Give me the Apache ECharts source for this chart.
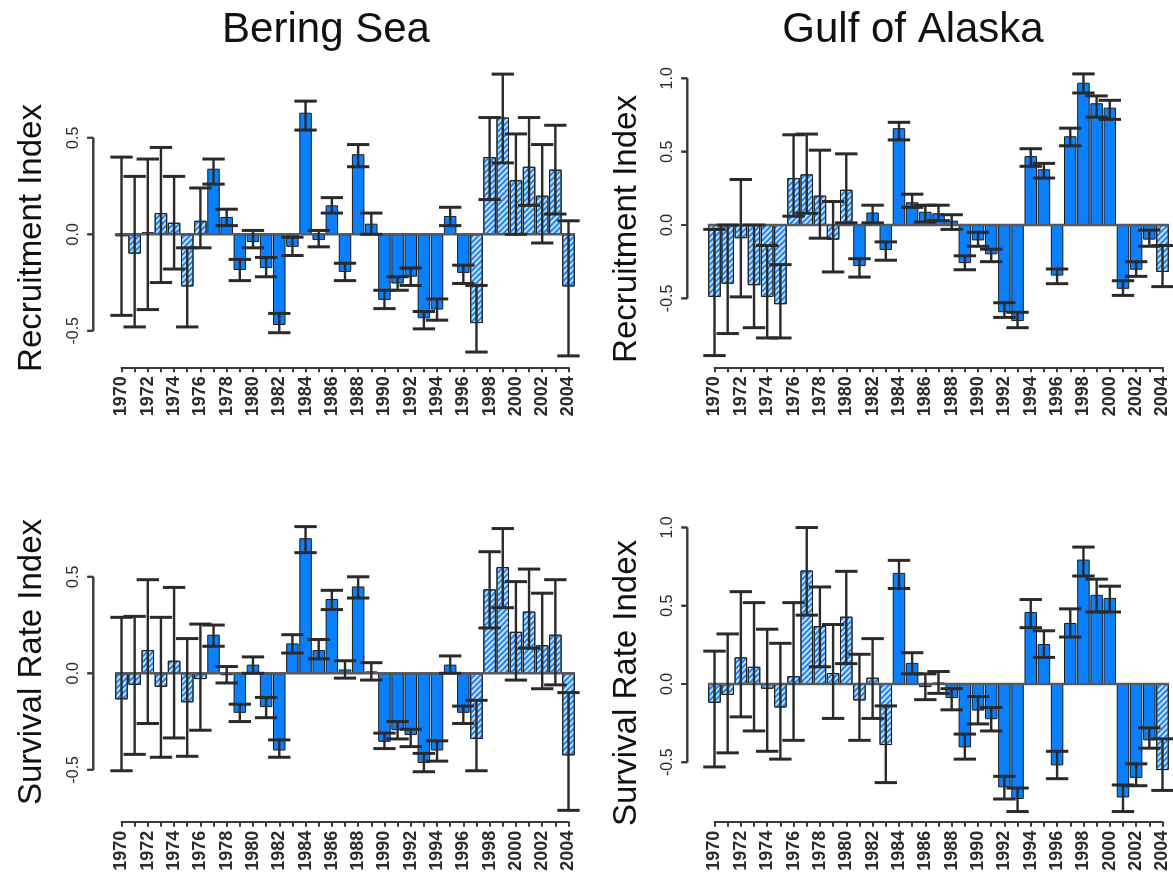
<!DOCTYPE html>
<html>
<head>
<meta charset="utf-8">
<script src="https://cdn.jsdelivr.net/npm/echarts@6/dist/echarts.min.js"></script>
<style>
  html, body { margin: 0; padding: 0; background: #ffffff; }
  #chart { width: 1173px; height: 880px; }
</style>
</head>
<body>
<div id="chart"></div>
<script>
// Year categories shared by all four panels
const years = ['1970','1971','1972','1973','1974','1975','1976','1977','1978','1979',
  '1980','1981','1982','1983','1984','1985','1986','1987','1988','1989',
  '1990','1991','1992','1993','1994','1995','1996','1997','1998','1999',
  '2000','2001','2002','2003','2004'];

// Y-axis tick values
const beringTicks = [-0.5, 0.0, 0.5];
const gulfTicks = [-0.5, 0.0, 0.5, 1.0];

// Bering Sea - recruitment index
const beringRecruit = [-0.01,-0.10,0.01,0.11,0.06,-0.27,0.07,0.34,0.09,-0.185,
  -0.04,-0.175,-0.47,-0.065,0.63,-0.03,0.15,-0.195,0.415,0.055,
  -0.34,-0.255,-0.22,-0.435,-0.39,0.095,-0.20,-0.46,0.40,0.605,
  0.28,0.35,0.20,0.335,-0.27];
const beringRecruitLow = [-0.42,-0.48,-0.39,-0.25,-0.18,-0.48,-0.07,0.26,0.045,-0.24,
  -0.07,-0.22,-0.51,-0.11,0.54,-0.065,0.11,-0.24,0.35,0.0,
  -0.385,-0.29,-0.265,-0.49,-0.445,0.045,-0.255,-0.61,0.18,0.37,
  0.0,0.15,-0.045,0.105,-0.63];
const beringRecruitHigh = [0.40,0.30,0.39,0.45,0.30,-0.07,0.24,0.39,0.13,-0.13,
  0.02,-0.12,-0.41,-0.015,0.69,0.02,0.19,-0.15,0.465,0.11,
  -0.29,-0.22,-0.175,-0.40,-0.335,0.14,-0.16,-0.265,0.605,0.83,
  0.52,0.605,0.465,0.565,0.07];
const beringRecruitHatched = ['1970','1971','1972','1973','1974','1975','1976',
  '1997','1998','1999','2000','2001','2002','2003','2004'];

// Bering Sea - survival rate index
const beringSurvival = [-0.135,-0.06,0.12,-0.07,0.065,-0.15,-0.03,0.20,-0.01,-0.205,
  0.045,-0.175,-0.40,0.155,0.70,0.12,0.385,0.02,0.45,0.01,
  -0.355,-0.295,-0.32,-0.465,-0.40,0.045,-0.205,-0.34,0.435,0.55,
  0.215,0.32,0.145,0.20,-0.425];
const beringSurvivalLow = [-0.505,-0.42,-0.26,-0.435,-0.335,-0.43,-0.295,0.14,-0.05,-0.25,
  0.0,-0.23,-0.435,0.105,0.625,0.075,0.33,-0.025,0.39,-0.035,
  -0.39,-0.34,-0.38,-0.51,-0.455,0.0,-0.26,-0.505,0.235,0.34,
  -0.035,0.13,-0.08,-0.06,-0.71];
const beringSurvivalHigh = [0.29,0.295,0.485,0.29,0.445,0.18,0.255,0.25,0.035,-0.16,
  0.085,-0.125,-0.345,0.20,0.76,0.175,0.43,0.065,0.50,0.055,
  -0.31,-0.25,-0.29,-0.415,-0.35,0.09,-0.17,-0.14,0.63,0.75,
  0.475,0.54,0.415,0.485,-0.10];
const beringSurvivalHatched = ['1970','1971','1972','1973','1974','1975','1976',
  '1997','1998','1999','2000','2001','2002','2003','2004'];

// Gulf of Alaska - recruitment index
const gulfRecruit = [-0.49,-0.40,-0.09,-0.41,-0.49,-0.54,0.32,0.345,0.20,-0.10,
  0.24,-0.28,0.085,-0.17,0.66,0.155,0.09,0.08,0.03,-0.26,
  -0.105,-0.20,-0.595,-0.655,0.47,0.38,-0.345,0.605,0.97,0.83,
  0.80,-0.435,-0.305,-0.10,-0.32];
const gulfRecruitLow = [-0.89,-0.74,-0.49,-0.70,-0.77,-0.77,0.06,0.08,-0.09,-0.32,
  0.015,-0.355,0.015,-0.24,0.58,0.12,0.02,0.03,-0.03,-0.305,
  -0.145,-0.25,-0.63,-0.70,0.40,0.32,-0.40,0.54,0.90,0.735,
  0.72,-0.48,-0.35,-0.145,-0.42];
const gulfRecruitHigh = [-0.03,0.0,0.31,0.0,-0.14,-0.27,0.615,0.62,0.51,0.16,
  0.485,-0.23,0.135,-0.115,0.70,0.21,0.135,0.135,0.07,-0.21,
  -0.05,-0.165,-0.53,-0.595,0.52,0.42,-0.30,0.66,1.03,0.88,
  0.85,-0.38,-0.25,-0.035,-0.14];
const gulfRecruitHatched = ['1970','1971','1972','1973','1974','1975','1976','1977',
  '1978','1979','1980','2004'];

// Gulf of Alaska - survival rate index
const gulfSurvival = [-0.12,-0.07,0.17,0.11,-0.03,-0.15,0.05,0.725,0.37,0.07,
  0.43,-0.105,0.04,-0.39,0.71,0.135,-0.02,0.01,-0.09,-0.405,
  -0.17,-0.225,-0.66,-0.735,0.46,0.255,-0.52,0.39,0.795,0.57,
  0.55,-0.725,-0.60,-0.36,-0.55];
const gulfSurvivalLow = [-0.53,-0.44,-0.21,-0.30,-0.43,-0.48,-0.36,0.44,0.11,-0.22,
  0.13,-0.36,-0.22,-0.63,0.61,0.065,-0.10,-0.06,-0.165,-0.48,
  -0.255,-0.30,-0.735,-0.815,0.36,0.17,-0.605,0.30,0.69,0.46,
  0.46,-0.815,-0.65,-0.41,-0.68];
const gulfSurvivalHigh = [0.21,0.32,0.59,0.52,0.35,0.26,0.52,1.0,0.62,0.38,
  0.72,0.19,0.29,-0.14,0.79,0.20,0.065,0.08,-0.03,-0.32,
  -0.08,-0.15,-0.59,-0.665,0.54,0.34,-0.43,0.48,0.875,0.67,
  0.625,-0.645,-0.51,-0.28,-0.35];
const gulfSurvivalHatched = ['1970','1971','1972','1973','1974','1975','1976','1977',
  '1978','1979','1980','1981','1982','1983','2004'];

// ---- styling ----
const FONT = '"Liberation Sans", Arial, Helvetica, sans-serif';
const SOLID = '#0a80ff';
const HATCH_FILL = '#c4e0fb';
const HATCH = {
  symbol: 'rect', symbolSize: 1, color: '#1f84ee',
  dashArrayX: [1, 0], dashArrayY: [2, 2], rotation: -Math.PI / 4
};
const INK = '#2a2a2a';
const AXIS = '#3a3a3a';

// Panel placement: zero line, pixels per unit, x-axis position;
// axisGap is how far the value-axis rule sits left of the first bar centre
const panels = [
  { name: 'Recruitment Index', vals: beringRecruit, low: beringRecruitLow, high: beringRecruitHigh,
    hatched: beringRecruitHatched, ticks: beringTicks,
    left: 121.5, width: 447, zeroY: 234.3, ppu: 193, axisY: 367.3, top: 0.9, axisGap: 28.2, nameX: 32, nameY: 238 },
  { name: 'Recruitment Index', vals: gulfRecruit, low: gulfRecruitLow, high: gulfRecruitHigh,
    hatched: gulfRecruitHatched, ticks: gulfTicks,
    left: 714.5, width: 448, zeroY: 225, ppu: 146.7, axisY: 367.3, top: 1.1, axisGap: 27.2, nameX: 627, nameY: 229 },
  { name: 'Survival Rate Index', vals: beringSurvival, low: beringSurvivalLow, high: beringSurvivalHigh,
    hatched: beringSurvivalHatched, ticks: beringTicks,
    left: 121.5, width: 447, zeroY: 673.3, ppu: 193, axisY: 821.7, top: 0.9, axisGap: 28.2, nameX: 32, nameY: 662 },
  { name: 'Survival Rate Index', vals: gulfSurvival, low: gulfSurvivalLow, high: gulfSurvivalHigh,
    hatched: gulfSurvivalHatched, ticks: gulfTicks,
    left: 714.5, width: 448, zeroY: 684, ppu: 156.5, axisY: 821.7, top: 1.1, axisGap: 27.2, nameX: 627, nameY: 683 }
];

// Value-axis rule: a vertical line from the first to the last tick, with short ticks
function axisRule(api, ticks, gap) {
  const ax = api.coord([0, 0])[0] - gap;
  const yLo = api.coord([0, ticks[0]])[1];
  const yHi = api.coord([0, ticks[ticks.length - 1]])[1];
  const kids = [{ type: 'rect', shape: { x: ax - 1, y: yHi, width: 2, height: yLo - yHi },
    style: { fill: AXIS } }];
  ticks.forEach(t => {
    const ty = api.coord([0, t])[1];
    kids.push({ type: 'rect', shape: { x: ax - 6, y: ty - 1, width: 6, height: 2 },
      style: { fill: AXIS } });
  });
  return kids;
}

const grid = [], xAxis = [], yAxis = [], series = [], graphic = [];
const n = panels.length;

panels.forEach((p, k) => {
  const gTop = p.zeroY - p.top * p.ppu;
  const gMin = -(p.axisY - p.zeroY) / p.ppu;
  const ticks = p.ticks;
  // plotting grid
  grid.push({ left: p.left, top: gTop, width: p.width, height: p.axisY - gTop });
  xAxis.push({
    gridIndex: k, type: 'category', data: years, boundaryGap: false, position: 'bottom',
    axisLine: { show: true, onZero: false, lineStyle: { color: AXIS, width: 2 } },
    axisTick: { show: true, interval: 0, length: 5, lineStyle: { color: AXIS, width: 2 } },
    axisLabel: { interval: 1, rotate: 90, margin: 9, fontSize: 18, fontWeight: 'bold',
      fontFamily: FONT, color: '#2b2b2b' },
    splitLine: { show: false }
  });
  yAxis.push({ gridIndex: k, type: 'value', min: gMin, max: p.top, show: false });

  // bars
  series.push({
    type: 'bar', xAxisIndex: k, yAxisIndex: k, clip: false, barWidth: 12.5, z: 2,
    itemStyle: { color: SOLID, borderColor: '#1a1a1a', borderWidth: 1 },
    emphasis: { disabled: true },
    data: p.vals.map((v, i) => p.hatched.includes(years[i])
      ? { value: v, itemStyle: { color: HATCH_FILL, decal: HATCH } }
      : v)
  });
  // zero baseline across the bars, plus the value-axis rule
  series.push({
    type: 'custom', xAxisIndex: k, yAxisIndex: k, clip: false, z: 3,
    data: [[0, 0]],
    renderItem: (params, api) => {
      const bw = api.size([1, 0])[0];
      const a = api.coord([0, 0]);
      const b = api.coord([years.length - 1, 0]);
      const kids = [{ type: 'line',
        shape: { x1: a[0] - bw / 2, y1: a[1], x2: b[0] + bw / 2, y2: b[1] },
        style: { stroke: '#5a5a5a', lineWidth: 2.5 } }].concat(axisRule(api, ticks, p.axisGap));
      return { type: 'group', children: kids };
    }
  });
  // the same rule again on an upper layer
  series.push({
    type: 'custom', xAxisIndex: k, yAxisIndex: k, clip: false, zlevel: 2, z: 10,
    data: [[0, 0]],
    renderItem: (params, api) => ({ type: 'group', children: axisRule(api, ticks, p.axisGap) })
  });
  // error bars
  series.push({
    type: 'custom', xAxisIndex: k, yAxisIndex: k, clip: false, z: 4,
    data: years.map((y, i) => [i, p.low[i], p.high[i]]),
    renderItem: (params, api) => {
      const i = api.value(0);
      const lo = api.coord([i, api.value(1)]);
      const hi = api.coord([i, api.value(2)]);
      const half = api.size([1, 0])[0] * 0.85;
      return { type: 'group', children: [
        { type: 'line', shape: { x1: lo[0], y1: lo[1], x2: hi[0], y2: hi[1] },
          style: { stroke: INK, lineWidth: 2.4 } },
        { type: 'line', shape: { x1: lo[0] - half, y1: lo[1], x2: lo[0] + half, y2: lo[1] },
          style: { stroke: INK, lineWidth: 3 } },
        { type: 'line', shape: { x1: hi[0] - half, y1: hi[1], x2: hi[0] + half, y2: hi[1] },
          style: { stroke: INK, lineWidth: 3 } }
      ] };
    }
  });

  // axis-name text
  graphic.push({ type: 'text', x: p.nameX, y: p.nameY, rotation: Math.PI / 2, silent: true,
    style: { text: p.name, font: '33px ' + FONT, fill: '#111',
      textAlign: 'center', textVerticalAlign: 'middle' } });
});

// Tick labels for the value axes: a narrow grid set further left, its axis on the
// right edge so the labels fall just left of the rule
panels.forEach((p, k) => {
  const tMin = p.ticks[0], tMax = p.ticks[p.ticks.length - 1];
  const top = p.zeroY - tMax * p.ppu;
  grid.push({ left: p.left - p.axisGap - 60, top: top, width: 8, height: (tMax - tMin) * p.ppu });
  xAxis.push({ gridIndex: n + k, type: 'value', show: false });
  yAxis.push({
    gridIndex: n + k, type: 'value', min: tMin, max: tMax, interval: 0.5, position: 'right',
    axisLine: { show: false },
    axisTick: { show: false },
    axisLabel: { rotate: 90, margin: 24, fontSize: 16, fontFamily: FONT, color: '#2b2b2b',
      formatter: v => v.toFixed(1) },
    splitLine: { show: false }
  });
});

// Region titles
graphic.push({ type: 'text', x: 326, y: 30, silent: true,
  style: { text: 'Bering Sea', font: '42px ' + FONT, fill: '#111',
    textAlign: 'center', textVerticalAlign: 'middle' } });
graphic.push({ type: 'text', x: 913, y: 30, silent: true,
  style: { text: 'Gulf of Alaska', font: '42px ' + FONT, fill: '#111',
    textAlign: 'center', textVerticalAlign: 'middle' } });

const chart = echarts.init(document.getElementById('chart'), null, { renderer: 'canvas' });
chart.setOption({
  backgroundColor: '#ffffff',
  animation: false,
  grid, xAxis, yAxis, series, graphic
});
</script>
</body>
</html>
